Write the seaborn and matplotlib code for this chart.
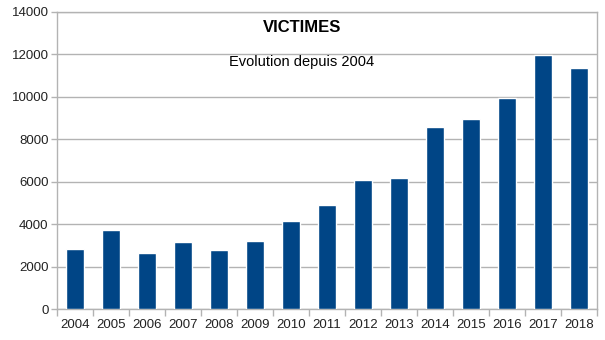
import matplotlib
matplotlib.use("Agg")
import matplotlib.pyplot as plt
import seaborn as sns
import pandas as pd
import numpy as np
from matplotlib.ticker import FixedLocator

years = ["2004", "2005", "2006", "2007", "2008", "2009", "2010", "2011",
         "2012", "2013", "2014", "2015", "2016", "2017", "2018"]
victimes = [2810, 3730, 2640, 3160, 2800, 3200, 4150, 4890,
            6100, 6180, 8570, 8960, 9940, 11960, 11350]
y_ticks = [0, 2000, 4000, 6000, 8000, 10000, 12000, 14000]

sns.set_theme(style="white")
plt.rcParams["font.family"] = ["Liberation Sans", "DejaVu Sans"]

grid_col = "#b3b3b3"
bar_col = "#004586"

fig = plt.figure(figsize=(6.05, 3.4), dpi=100)
ax = fig.add_axes([57 / 605, 1 - 309 / 340, 540 / 605, 297 / 340])

df = pd.DataFrame({"annee": years, "victimes": victimes})
sns.barplot(data=df, x="annee", y="victimes", color=bar_col, saturation=1,
            width=0.5, ax=ax, zorder=3)

ax.set_ylim(0, 14000)
ax.set_xlim(-0.5, len(years) - 0.5)
ax.set_yticks(y_ticks)
ax.set_yticklabels([str(v) for v in y_ticks])
ax.set_xlabel("")
ax.set_ylabel("")

ax.yaxis.grid(True, color=grid_col, linewidth=1.0, zorder=0)
ax.xaxis.grid(False)
for side in ["left", "right", "top", "bottom"]:
    ax.spines[side].set_visible(True)
    ax.spines[side].set_color(grid_col)
    ax.spines[side].set_linewidth(1.0)

ax.tick_params(axis="y", which="major", length=4, width=1, color=grid_col,
               labelsize=9.5, labelcolor="#222222", pad=2, left=True)
ax.tick_params(axis="x", which="major", length=0, labelsize=9.5,
               labelcolor="#222222", pad=7)
ax.xaxis.set_minor_locator(FixedLocator(np.arange(-0.5, len(years), 1.0)))
ax.tick_params(axis="x", which="minor", length=5, width=1, color=grid_col,
               bottom=True)

fig.text(302 / 605, 1 - 27 / 340, "VICTIMES", ha="center", va="center",
         fontsize=12, fontweight="bold", color="black")
fig.text(302 / 605, 1 - 62 / 340, "Evolution depuis 2004", ha="center",
         va="center", fontsize=10.5, color="black")

fig.savefig("out.png", dpi=100)
